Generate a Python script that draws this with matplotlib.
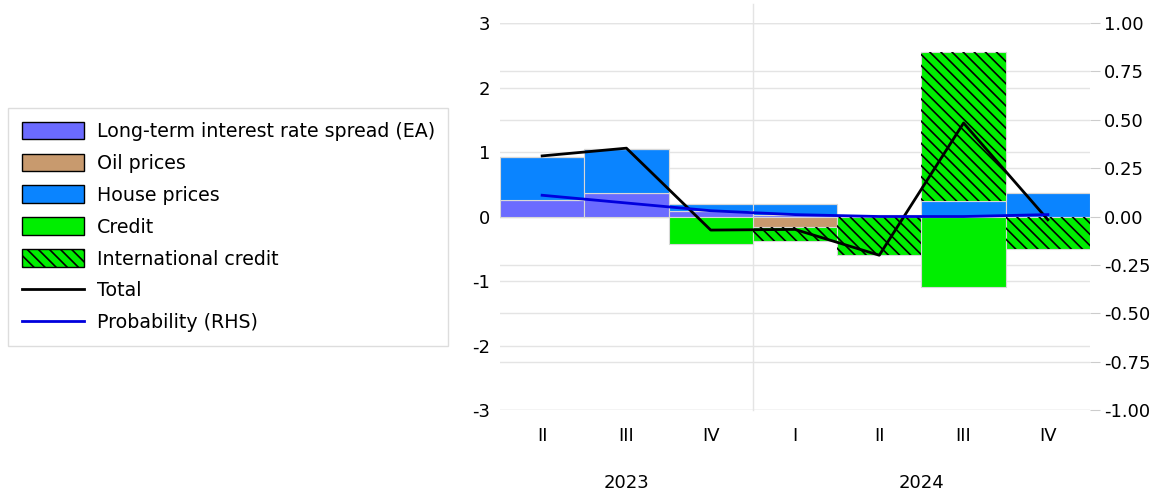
import numpy as np
import matplotlib
matplotlib.use('Agg')
from matplotlib import pyplot as plt
from matplotlib.patches import Patch
from matplotlib.lines import Line2D

quarters = ['II', 'III', 'IV', 'I', 'II', 'III', 'IV']
years = ['2023', '2024']
year_centers = [1, 4.5]

spread = [0.26, 0.36, 0.08, 0.02, 0.0, 0.0, 0.0]
oil = [0.0, 0.0, 0.0, -0.17, 0.0, 0.0, 0.0]
house = [0.66, 0.69, 0.11, 0.17, 0.02, 0.24, 0.36]
credit = [0.0, 0.0, -0.43, 0.0, 0.0, -1.09, 0.0]
intl = [0.0, 0.0, 0.0, -0.21, -0.60, 2.31, -0.50]
total = [0.94, 1.06, -0.21, -0.20, -0.60, 1.45, -0.05]
prob = [0.11, 0.07, 0.03, 0.01, 0.0, 0.0, 0.01]

left_ticks = list(range(-3, 4))
right_ticks = [-1.0, -0.75, -0.5, -0.25, 0.0, 0.25, 0.5, 0.75, 1.0]

series = [
    ('Long-term interest rate spread (EA)', spread, '#6b6bff', None),
    ('Oil prices', oil, '#c89a6e', None),
    ('House prices', house, '#0a84ff', None),
    ('Credit', credit, '#00ee00', None),
    ('International credit', intl, '#00ee00', '\\\\\\'),
]

plt.rcParams['font.family'] = 'DejaVu Sans'
plt.rcParams['axes.unicode_minus'] = False
plt.rcParams['hatch.linewidth'] = 1.2
plt.rcParams['hatch.color'] = 'black'

fig = plt.figure(figsize=(11.65, 4.91), dpi=100)
ax = fig.add_axes([500 / 1165, 0.165, 590 / 1165, 0.788])
ax2 = ax.twinx()

ax.set_xlim(-0.5, 6.5)
ax.set_ylim(-3, 3)
ax2.set_ylim(-1, 1)

x = np.arange(len(quarters))
grid_c = '#e4e4e4'
for v in left_ticks:
    ax.axhline(v, color=grid_c, lw=1, zorder=0)
# right-axis grid drawn on the left axes so it stays behind the bars
for v in right_ticks:
    ax.axhline(v * 3, color=grid_c, lw=1, zorder=0)
ax.axvline(2.5, ymin=0, ymax=1.05, color=grid_c, lw=1, zorder=0, clip_on=False)

pos = np.zeros(len(x))
neg = np.zeros(len(x))
for name, vals, col, hatch in series:
    vals = np.array(vals)
    bottom = np.where(vals >= 0, pos, neg)
    ax.bar(x, vals, width=1.0, bottom=bottom, color=col,
           edgecolor='#d8d8d8', linewidth=0.8, zorder=2)
    if hatch:
        ax.bar(x, vals, width=1.0, bottom=bottom, color='none', hatch=hatch,
               edgecolor='black', linewidth=0, zorder=2)
    pos = pos + np.where(vals >= 0, vals, 0)
    neg = neg + np.where(vals < 0, vals, 0)

ax.plot(x, total, color='black', lw=2, zorder=4)
ax2.plot(x, prob, color='#0000dd', lw=2, zorder=4)

ax.set_yticks(left_ticks)
ax2.set_yticks(right_ticks)
ax2.set_yticklabels(['%.2f' % v for v in right_ticks])
ax.set_xticks(x)
ax.set_xticklabels(quarters)
ax.tick_params(axis='x', length=0, pad=12, labelsize=13)
ax.tick_params(axis='y', length=0, pad=7, labelsize=13)
ax2.tick_params(axis='y', length=7, color='#cccccc', pad=3, labelsize=13)
for a in (ax, ax2):
    for s in a.spines.values():
        s.set_visible(False)
ax2.patch.set_visible(False)

for yr, c in zip(years, year_centers):
    ax.text(c, -0.19, yr, transform=ax.get_xaxis_transform(), ha='center',
            va='center', fontsize=13)

handles = [Patch(facecolor=col, edgecolor='black', hatch=h, label=n)
           for n, _, col, h in series]
handles.append(Line2D([], [], color='black', lw=2, label='Total'))
handles.append(Line2D([], [], color='#0000dd', lw=2, label='Probability (RHS)'))
leg = fig.legend(handles=handles, loc='upper left',
                 bbox_to_anchor=(8 / 1165, 1 - 108 / 491), borderaxespad=0,
                 fontsize=13.7, handlelength=3.26, handleheight=1.05,
                 handletextpad=0.68, labelspacing=0.66, borderpad=0.72,
                 fancybox=False, edgecolor='#dddddd', framealpha=1)
leg.get_frame().set_linewidth(1)

fig.savefig('out.png', dpi=100)
